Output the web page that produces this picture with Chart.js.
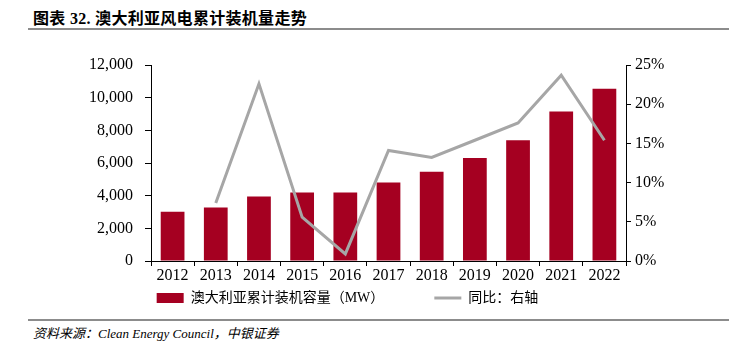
<!DOCTYPE html>
<html>
<head>
<meta charset="utf-8">
<script src="https://cdn.jsdelivr.net/npm/chart.js@4"></script>
<style>
  html, body { margin: 0; padding: 0; background: #fff; }
  body { width: 731px; height: 350px; position: relative; overflow: hidden; }
  #title { position: absolute; left: 33px; top: 5px; font: bold 16px "Liberation Serif", "Noto Sans CJK SC", serif; color: #000; white-space: nowrap; letter-spacing: 0.3px; }
  #tline { position: absolute; left: 28px; top: 28px; width: 701px; height: 2px; background: #8c8c8c; }
  #sline { position: absolute; left: 28px; top: 319px; width: 701px; height: 2px; background: #8c8c8c; }
  #source { position: absolute; left: 33px; top: 323px; font: italic 13px "Liberation Serif", "Noto Sans CJK SC", serif; color: #000; white-space: nowrap; }
  #wrap { position: absolute; left: 0; top: 36px; width: 695px; height: 284px; }
</style>
</head>
<body>
<div id="title">图表 32. 澳大利亚风电累计装机量走势</div>
<div id="tline"></div>
<div id="wrap"><canvas id="c"></canvas></div>
<div id="sline"></div>
<div id="source">资料来源：Clean Energy Council，中银证券</div>
<script>
const categories = ['2012','2013','2014','2015','2016','2017','2018','2019','2020','2021','2022'];
const capacityMW = [3010, 3275, 3950, 4200, 4200, 4810, 5470, 6300, 7390, 9150, 10540];
const growthPct = [null, 7.4, 22.6, 5.6, 0.9, 14.1, 13.2, 15.4, 17.6, 23.7, 15.4];
const leftTicks = [0, 2000, 4000, 6000, 8000, 10000, 12000];
const rightTicks = [0, 5, 10, 15, 20, 25];
const barLabel = '澳大利亚累计装机容量（MW）';
const lineLabel = '同比：右轴';

const serif = "'Liberation Serif', 'Noto Sans CJK SC', serif";

new Chart(document.getElementById('c'), {
  type: 'bar',
  data: {
    labels: categories,
    datasets: [
      {
        type: 'bar',
        label: barLabel,
        data: capacityMW,
        backgroundColor: '#A50021',
        borderWidth: 0,
        barPercentage: 0.55,
        categoryPercentage: 1.0,
        yAxisID: 'y',
        order: 1,
        pointStyle: 'rect'
      },
      {
        type: 'line',
        label: lineLabel,
        data: growthPct,
        borderColor: '#A6A6A6',
        backgroundColor: '#A6A6A6',
        borderWidth: 3,
        pointRadius: 0,
        tension: 0,
        yAxisID: 'y1',
        order: 0,
        pointStyle: 'line'
      }
    ]
  },
  options: {
    responsive: true,
    maintainAspectRatio: false,
    animation: false,
    layout: { padding: { top: 29, bottom: 5, left: 0, right: 0 } },
    plugins: {
      tooltip: { enabled: false },
      legend: {
        position: 'bottom',
        labels: {
          usePointStyle: true,
          pointStyleWidth: 27,
          boxHeight: 10,
          padding: 8,
          color: '#000',
          font: { family: serif, size: 14 },
          sort: (a, b) => a.datasetIndex - b.datasetIndex,
          generateLabels: (chart) => {
            const items = Chart.defaults.plugins.legend.labels.generateLabels(chart);
            items.forEach(it => {
              if (it.datasetIndex === 0) { it.text = it.text + '\u3000\u3000\u3000\u2002'; it.lineWidth = 0; }
              else { it.lineWidth = 3; }
            });
            return items;
          }
        }
      }
    },
    scales: {
      x: {
        offset: true,
        grid: { display: true, offset: true, drawOnChartArea: false, drawTicks: true, tickLength: 5, color: '#000' },
        border: { display: true, color: '#000', width: 1 },
        ticks: { color: '#000', font: { family: serif, size: 16 }, padding: 0, maxRotation: 0, autoSkip: false },
        afterFit: (s) => { s.height = 22; }
      },
      y: {
        position: 'left',
        min: 0, max: 12000,
        afterBuildTicks: (s) => { s.ticks = leftTicks.map(v => ({ value: v })); },
        grid: { display: true, drawOnChartArea: false, drawTicks: true, tickLength: 6, color: '#000' },
        border: { display: true, color: '#000', width: 1 },
        ticks: { color: '#000', font: { family: serif, size: 16 }, padding: 12,
          callback: (v) => Number(v).toLocaleString('en-US') },
        afterFit: (s) => { s.width = 151; }
      },
      y1: {
        position: 'right',
        min: 0, max: 25,
        afterBuildTicks: (s) => { s.ticks = rightTicks.map(v => ({ value: v })); },
        grid: { display: true, drawOnChartArea: false, drawTicks: true, tickLength: 5, color: '#000' },
        border: { display: true, color: '#000', width: 1 },
        ticks: { color: '#000', font: { family: serif, size: 16 }, padding: 4,
          callback: (v) => v + '%' },
        afterFit: (s) => { s.width = 69; }
      }
    }
  }
});
</script>
</body>
</html>
